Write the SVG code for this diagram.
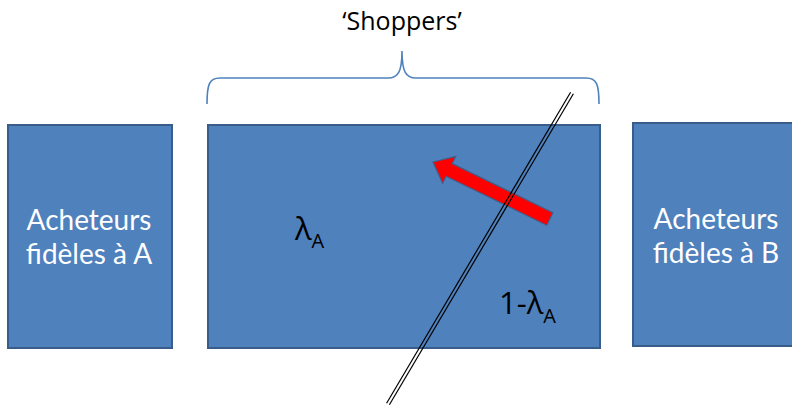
<svg xmlns="http://www.w3.org/2000/svg" width="792" height="406" viewBox="0 0 792 406">
  <style>
    .box { fill: #4F81BD; stroke: #385D8A; stroke-width: 2; }
    .wt { fill: #FFFFFF; font-family: Lato, "Open Sans", "Liberation Sans", sans-serif; font-size: 28px; text-anchor: middle; }
    .bk { fill: #000000; font-family: "Open Sans", "Liberation Sans", sans-serif; font-size: 31px; }
    .sub { font-size: 20px; }
    .brace { fill: none; stroke: #4F81BD; stroke-width: 1.6; }
    .dbl { stroke: #000000; stroke-width: 1.2; fill: none; }
  </style>
  <rect width="792" height="406" fill="#FFFFFF"/>

  <g id="title">
    <text x="402" y="30" font-family="'Open Sans', 'Liberation Sans', sans-serif" font-size="25" text-anchor="middle" fill="#000000">‘Shoppers’</text>
  </g>

  <g id="fideles-a">
    <rect class="box" x="8" y="125" width="164" height="223"/>
    <text class="wt" x="89" y="230">Acheteurs</text>
    <text class="wt" x="89" y="264">fidèles à A</text>
  </g>

  <g id="shoppers">
    <rect class="box" x="208" y="125" width="392" height="223"/>
    <text class="bk" x="295" y="240">λ<tspan class="sub" dy="8">A</tspan></text>
    <text class="bk" x="499" y="314">1-λ<tspan class="sub" dy="9">A</tspan></text>
  </g>

  <g id="fideles-b">
    <rect class="box" x="633" y="123" width="164" height="223"/>
    <text class="wt" x="716" y="229">Acheteurs</text>
    <text class="wt" x="716" y="263">fidèles à B</text>
  </g>

  <g id="connectors">
    <path class="brace" d="M207,104 C207,85 209,78 220,78 L388,78 C398,78 402,72 402,51 C402,72 406,78 416,78 L586,78 C597,78 599,85 599,104"/>
    <polygon points="0,0 18,-15 18,-7 130,-7 130,7 18,7 18,15" fill="#FF0000" stroke="#3F5F8A" stroke-width="1.2" stroke-linejoin="miter" transform="translate(433,162) rotate(26)"/>
    <line class="dbl" x1="573.4" y1="93.8" x2="389.4" y2="404.8"/>
    <line class="dbl" x1="570.6" y1="92.2" x2="386.6" y2="403.2"/>
  </g>
</svg>
